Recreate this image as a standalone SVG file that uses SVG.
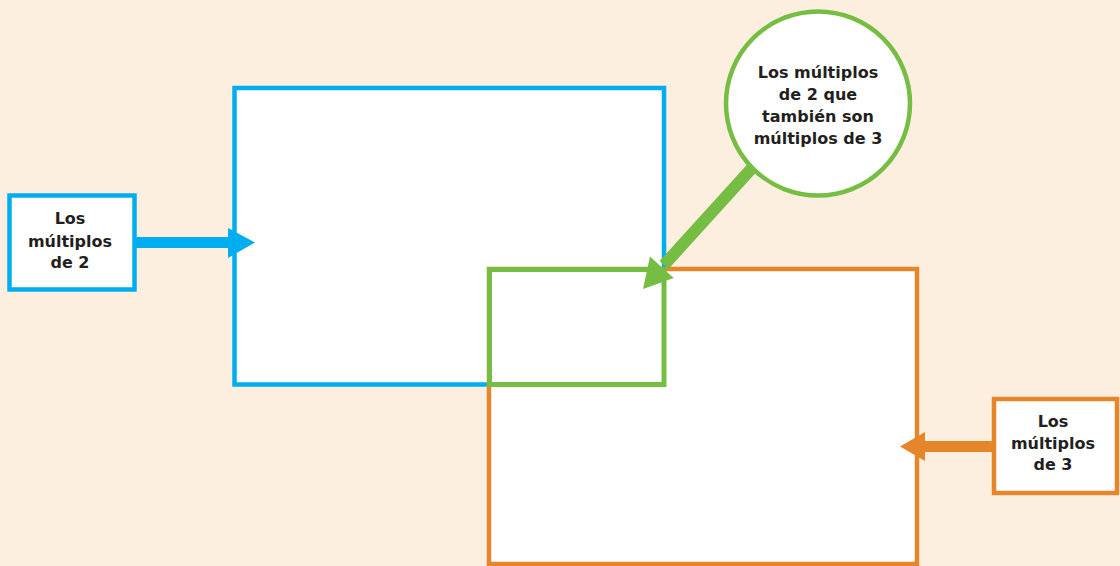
<svg xmlns="http://www.w3.org/2000/svg" width="1120" height="566" viewBox="0 0 1120 566">
<style>
.t{font-family:"DejaVu Sans","Liberation Sans",sans-serif;font-weight:bold;font-size:16px;fill:#231f20;text-anchor:middle}
.box{fill:#ffffff;stroke-width:4.5}
</style>
<rect x="0" y="0" width="1120" height="566" fill="#fdefe0"/>
<g id="set2">
<rect class="box" x="234.5" y="88" width="429.5" height="296.5" stroke="#00aeef"/>
</g>
<g id="set3">
<rect class="box" x="489" y="269" width="428" height="295" stroke="#e6862a"/>
</g>
<g id="intersection">
<rect x="489.5" y="269.5" width="174.5" height="115" fill="none" stroke="#76bd43" stroke-width="5"/>
</g>
<g id="label2">
<rect class="box" x="9.5" y="195.5" width="125" height="94" stroke="#00aeef"/>
<text class="t" x="70" y="224">Los</text>
<text class="t" x="70" y="247">múltiplos</text>
<text class="t" x="70" y="268">de 2</text>
</g>
<g id="label3">
<rect class="box" x="994" y="399" width="123" height="94" stroke="#e6862a"/>
<text class="t" x="1053" y="427">Los</text>
<text class="t" x="1053" y="449">múltiplos</text>
<text class="t" x="1053" y="470">de 3</text>
</g>
<g id="labelBoth">
<circle cx="818" cy="103.5" r="92" fill="#ffffff" stroke="#76bd43" stroke-width="4.5"/>
<text class="t" x="818" y="78">Los múltiplos</text>
<text class="t" x="818" y="100">de 2 que</text>
<text class="t" x="818" y="122">también son</text>
<text class="t" x="818" y="144">múltiplos de 3</text>
</g>
<g id="connectors">
<line x1="134" y1="242.5" x2="230" y2="242.5" stroke="#00aeef" stroke-width="11"/>
<polygon points="255,242.5 228,228 228,258" fill="#00aeef"/>
<line x1="994" y1="446.5" x2="923" y2="446.5" stroke="#e6862a" stroke-width="11"/>
<polygon points="900,446.5 925,432 925,461" fill="#e6862a"/>
<line x1="752" y1="168" x2="664" y2="265" stroke="#76bd43" stroke-width="12"/>
<polygon points="643,289 650,256.4 673.7,278" fill="#76bd43"/>
</g>
</svg>
